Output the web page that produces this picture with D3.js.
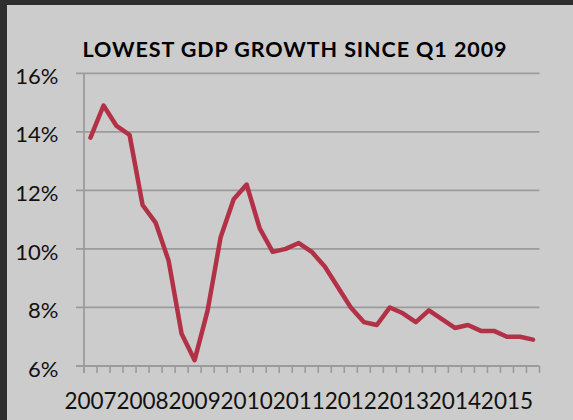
<!DOCTYPE html>
<html>
<head>
<meta charset="utf-8">
<script src="https://cdn.jsdelivr.net/npm/d3@7/dist/d3.min.js"></script>
<style>
  html, body { margin: 0; padding: 0; background: #2e2e2e; }
  svg { display: block; }
</style>
</head>
<body>
<div id="chart"></div>
<script>
const quarters = [
  "2007Q1","2007Q2","2007Q3","2007Q4",
  "2008Q1","2008Q2","2008Q3","2008Q4",
  "2009Q1","2009Q2","2009Q3","2009Q4",
  "2010Q1","2010Q2","2010Q3","2010Q4",
  "2011Q1","2011Q2","2011Q3","2011Q4",
  "2012Q1","2012Q2","2012Q3","2012Q4",
  "2013Q1","2013Q2","2013Q3","2013Q4",
  "2014Q1","2014Q2","2014Q3","2014Q4",
  "2015Q1","2015Q2","2015Q3"
];
const growth = [
  13.8, 14.9, 14.2, 13.9,
  11.5, 10.9, 9.6, 7.1,
  6.2, 7.9, 10.4, 11.7,
  12.2, 10.7, 9.9, 10.0,
  10.2, 9.9, 9.4, 8.7,
  8.0, 7.5, 7.4, 8.0,
  7.8, 7.5, 7.9, 7.6,
  7.3, 7.4, 7.2, 7.2,
  7.0, 7.0, 6.9
];
const yTicks = [6, 8, 10, 12, 14, 16];
const yearLabels = ["2007","2008","2009","2010","2011","2012","2013","2014","2015"];
const title = "LOWEST GDP GROWTH SINCE Q1 2009";

const W = 573, H = 420;
const svg = d3.select("#chart").append("svg").attr("width", W).attr("height", H);

// background panel (dark frame on top/left)
svg.append("rect").attr("x", 0).attr("y", 0).attr("width", W).attr("height", H).attr("fill", "#2e2e2e");
svg.append("rect").attr("x", 7).attr("y", 5).attr("width", W - 7).attr("height", H - 5).attr("fill", "#cccccc");

const x = d3.scaleBand().domain(quarters).range([84, 539.5]).paddingInner(0).paddingOuter(0);
const y = d3.scaleLinear().domain([6, 16]).range([366, 73.3]);

const gridColor = "#9b9b9b";

// gridlines + y ticks
svg.append("g").selectAll("line").data(yTicks).join("line")
  .attr("x1", 76).attr("x2", x.range()[1])
  .attr("y1", d => y(d)).attr("y2", d => y(d))
  .attr("stroke", gridColor).attr("stroke-width", 1.8);

// y axis line
svg.append("line")
  .attr("x1", x.range()[0]).attr("x2", x.range()[0])
  .attr("y1", y(16)).attr("y2", y(6) + 7)
  .attr("stroke", gridColor).attr("stroke-width", 1.8);

// x ticks at category boundaries
const boundaries = quarters.map(q => x(q)).concat([x.range()[1]]);
svg.append("g").selectAll("line").data(boundaries).join("line")
  .attr("x1", d => d).attr("x2", d => d)
  .attr("y1", y(6)).attr("y2", y(6) + 7)
  .attr("stroke", gridColor).attr("stroke-width", 1.6);

// y labels
svg.append("g").selectAll("text").data(yTicks).join("text")
  .attr("x", 58.5).attr("y", d => y(d) + 10.6)
  .attr("text-anchor", "end")
  .attr("font-family", "Lato, 'Liberation Sans', sans-serif")
  .attr("font-size", 22)
  .attr("fill", "#111")
  .text(d => d + "%");

// x labels: one per year, at the first quarter of each year
svg.append("g").selectAll("text").data(yearLabels).join("text")
  .attr("x", d => x(d + "Q1") + x.bandwidth() / 2)
  .attr("y", 409.3)
  .attr("text-anchor", "middle")
  .attr("font-family", "Lato, 'Liberation Sans', sans-serif")
  .attr("font-size", 22.5)
  .attr("fill", "#111")
  .text(d => d);

// line
const line = d3.line()
  .x((d, i) => x(quarters[i]) + x.bandwidth() / 2)
  .y(d => y(d));
svg.append("path").datum(growth)
  .attr("d", line)
  .attr("fill", "none")
  .attr("stroke", "#b23146")
  .attr("stroke-width", 4.5)
  .attr("stroke-linejoin", "round")
  .attr("stroke-linecap", "round");

// title
svg.append("text")
  .attr("x", 294.5).attr("y", 56.7)
  .attr("text-anchor", "middle")
  .attr("font-family", "Lato, 'Liberation Sans', sans-serif")
  .attr("font-weight", "bold")
  .attr("font-size", 21.5)
  .attr("textLength", 424)
  .attr("lengthAdjust", "spacing")
  .attr("fill", "#000")
  .text(title);
</script>
</body>
</html>
